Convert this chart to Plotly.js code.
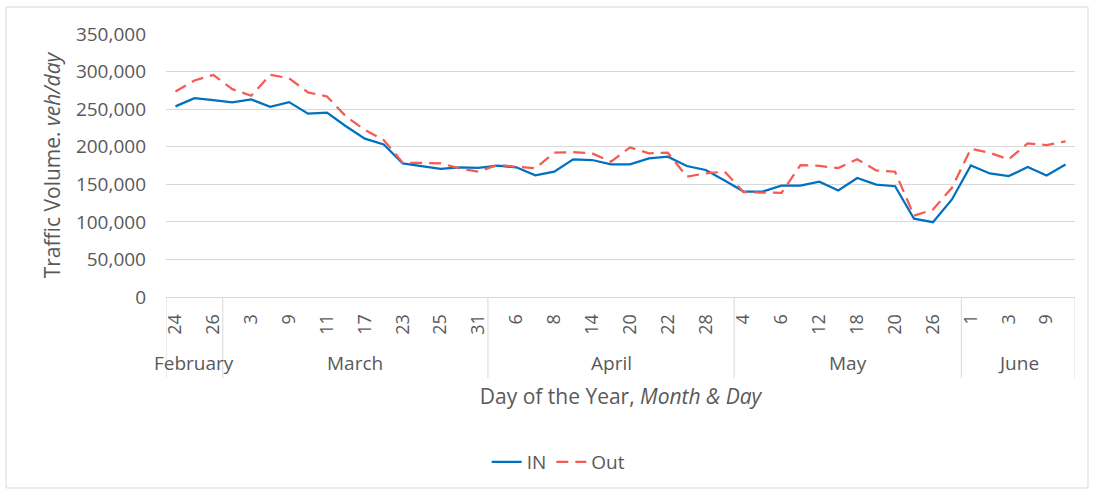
<!DOCTYPE html>
<html>
<head>
<meta charset="utf-8">
<script src="https://cdn.plot.ly/plotly-3.0.1.min.js"></script>
<style>html,body{margin:0;padding:0;background:#fff;}#chart{width:1094px;height:494px;}</style>
</head>
<body>
<div id="chart"></div>
<script>
// ---- data ----
const monthNames = ['February', 'March', 'April', 'May', 'June'];
const days = [24, 25, 26,
  2, 3, 4, 9, 10, 11, 16, 17, 18, 23, 24, 25, 30, 31,
  1, 6, 7, 8, 13, 14, 15, 20, 21, 22, 27, 28, 29,
  4, 5, 6, 11, 12, 13, 18, 19, 20, 25, 26, 27,
  1, 2, 3, 8, 9, 10];
const months = [
  'February', 'February', 'February',
  'March', 'March', 'March', 'March', 'March', 'March', 'March', 'March', 'March', 'March', 'March', 'March', 'March', 'March',
  'April', 'April', 'April', 'April', 'April', 'April', 'April', 'April', 'April', 'April', 'April', 'April', 'April',
  'May', 'May', 'May', 'May', 'May', 'May', 'May', 'May', 'May', 'May', 'May', 'May',
  'June', 'June', 'June', 'June', 'June', 'June'];
const inVolume = [253700, 264700, 262000, 259000, 263000, 253200, 259400, 244000, 245300, 227200, 210800,
  203100, 177900, 174300, 170500, 172600, 171700, 174800, 172600, 161900,
  166800, 183200, 182300, 176500, 176500, 184500, 186700, 174300, 169000, 155000,
  140400, 140400, 148200, 148200, 153500, 141700, 158300, 149600, 147400, 104200,
  99600, 129800, 175100, 164400, 160900, 172900, 161800, 176400];
const outVolume = [273500, 288100, 295600, 276600, 267800, 295600, 291200, 272200, 266900, 240400, 222500,
  208800, 178800, 178800, 177900, 171200, 166800, 175700, 173500, 171200,
  192000, 192900, 191200, 180100, 199100, 191200, 192000, 160200, 164600, 166800,
  139500, 138600, 138600, 175400, 174600, 171500, 183300, 168400, 166700, 108200,
  116400, 145300, 197300, 192000, 183100, 204400, 202200, 207100];
const yTickVals = [0, 50000, 100000, 150000, 200000, 250000, 300000, 350000];

// ---- derived ----
const cats = days.map((d, i) => months[i] + ' ' + d);
const tickVals = cats.filter((c, i) => i % 2 === 0);
const tickText = days.filter((d, i) => i % 2 === 0).map(String);

const textColor = '#595959';
const gridColor = '#d9d9d9';
const font = 'Open Sans, Noto Sans, sans-serif';

// month spans
const spans = monthNames.map(m => {
  const first = months.indexOf(m);
  const last = months.lastIndexOf(m);
  return {m, first, last};
});
const shapes = [];
const bounds = [-0.5].concat(spans.map(s => s.last + 0.5));
bounds.forEach(b => shapes.push({
  type: 'line', xref: 'x', yref: 'paper', x0: b, x1: b, y0: 0, y1: -0.308,
  line: {color: gridColor, width: 1}
}));
// outer chart border
shapes.push({
  type: 'rect', xref: 'paper', yref: 'paper', x0: -0.176, x1: 1.0143, y0: -0.726, y1: 1.1027,
  line: {color: gridColor, width: 1}, fillcolor: 'rgba(0,0,0,0)'
});
const annotations = spans.map(s => ({
  xref: 'x', yref: 'paper', x: (s.first + s.last) / 2, y: -0.251,
  text: s.m, showarrow: false, xanchor: 'center', yanchor: 'middle',
  font: {family: font, size: 19, color: textColor}
}));

const traces = [
  {x: cats, y: inVolume, type: 'scatter', mode: 'lines', name: 'IN',
   line: {color: '#0070C0', width: 2.25}},
  {x: cats, y: outVolume, type: 'scatter', mode: 'lines', name: 'Out',
   line: {color: '#F45B53', width: 2.25, dash: '12px,7px'}}
];

const layout = {
  width: 1094, height: 494,
  margin: {l: 166, r: 19, t: 34, b: 197},
  paper_bgcolor: '#fff', plot_bgcolor: '#fff',
  font: {family: font, color: textColor},
  showlegend: true,
  legend: {orientation: 'h', x: 0.432, xanchor: 'center', y: -0.627, yanchor: 'middle',
    font: {family: font, size: 19, color: textColor}, traceorder: 'normal'},
  xaxis: {
    type: 'category', categoryorder: 'array', categoryarray: cats,
    range: [-0.5, cats.length - 0.5],
    tickmode: 'array', tickvals: tickVals, ticktext: tickText,
    tickangle: -90, ticks: '', ticklabelstandoff: 9,
    tickfont: {family: font, size: 18, color: textColor},
    showgrid: false, showline: true, linecolor: gridColor, linewidth: 1, zeroline: false,
    title: {text: 'Day of the Year, <i>Month &amp; Day</i>', standoff: 55,
      font: {family: font, size: 21, color: textColor}}
  },
  yaxis: {
    range: [0, 350000], tickmode: 'array', tickvals: yTickVals, tickformat: ',d',
    ticks: '', ticklabelstandoff: 19,
    tickfont: {family: font, size: 19, color: textColor},
    showgrid: true, gridcolor: gridColor, gridwidth: 1, zeroline: false, showline: false,
    title: {text: 'Traffic Volume. <i>veh/day</i>', standoff: 9,
      font: {family: font, size: 21, color: textColor}}
  },
  shapes, annotations
};

Plotly.newPlot('chart', traces, layout, {displayModeBar: false, staticPlot: true});
</script>
</body>
</html>
